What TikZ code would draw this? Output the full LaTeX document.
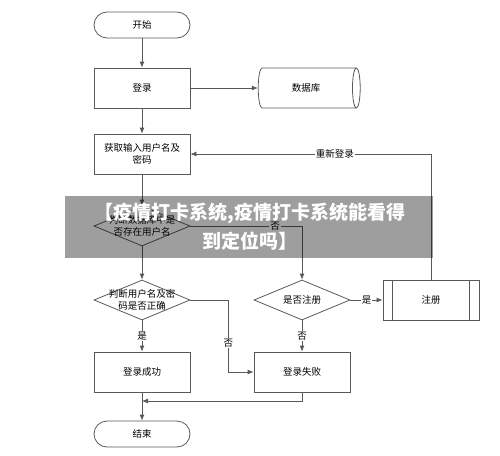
\documentclass[tikz,border=0pt]{standalone}
\usepackage{fontspec}
\setmainfont{Noto Sans CJK SC}
\usetikzlibrary{shapes.geometric,arrows.meta}

\begin{document}
\begin{tikzpicture}
    [x=1pt,y=-1pt,font=\fontsize{9.5}{12}\selectfont,
     box/.style={draw=black!65,thick,minimum width=96pt,minimum height=40pt,align=center},
     flow/.style={draw=black!65,thick,-{Latex[length=6pt,width=5pt]}},
     terminal/.style={box,rounded corners=13pt,minimum height=26pt},
     decision/.style={box,diamond,inner sep=0pt,aspect=2.4},
     tag/.style={fill=white,inner sep=1pt}]
    \useasboundingbox (0,0) rectangle (500,455);
    \node[terminal] (start) at (142,25) {开始};
    \node[box] (login) at (142,88) {登录};
    \node[box,cylinder,minimum width=40pt,minimum height=102pt,aspect=0.5] (db) at (306,88) {数据库};
    \node[box] (input) at (142,154) {获取输入用户名及\\密码};
    \node[decision,label={[align=center]center:判断数据库中是\\否存在用户名}] (check1) at (142,226) {};
    \node[decision] (check2) at (302,300) {是否注册};
    \node[decision,label={[align=center]center:判断用户名及密\\码是否正确}] (check3) at (142,300) {};
    \node[box] (reg) at (431,300) {注册};
    \draw[draw=black!65,thick] ([xshift=10pt]reg.north west) -- ([xshift=10pt]reg.south west);
    \draw[draw=black!65,thick] ([xshift=-10pt]reg.north east) -- ([xshift=-10pt]reg.south east);
    \node[box] (success) at (142,372) {登录成功};
    \node[box] (fail) at (302,372) {登录失败};
    \node[terminal] (end) at (142,434) {结束};
    \coordinate (join) at (142,401);
    \draw[flow] (start) -- (login);
    \draw[flow] (login) -- (db);
    \draw[flow] (login) -- (input);
    \draw[flow] (input) -- (check1);
    \draw[flow] (check1.east) -| node[tag,pos=0.38] {否} (check2.north);
    \draw[flow] (check1) -- (check3);
    \draw[flow] (check3) -- node[tag] {是} (success);
    \draw[flow] (check3.east) -- ++(38,0) |- node[tag,pos=0.3] {否} (fail.west);
    \draw[flow] (check2) -- node[tag] {是} (reg);
    \draw[flow] (check2) -- node[tag] {否} (fail);
    \draw[flow] (reg.north) |- node[tag,pos=0.7] {重新登录} (input.east);
    \draw[flow] (success) -- (end);
    \draw[flow] (fail.south) |- (join);
    % banner
    \fill[black,opacity=0.38] (65,196) rectangle (433,258);
    \node[text=white,align=center,font=\fontsize{19}{29}\selectfont\bfseries] (banner) at (250,227)
        {【疫情打卡系统,疫情打卡系统能看得\\到定位吗】};
\end{tikzpicture}
\end{document}
